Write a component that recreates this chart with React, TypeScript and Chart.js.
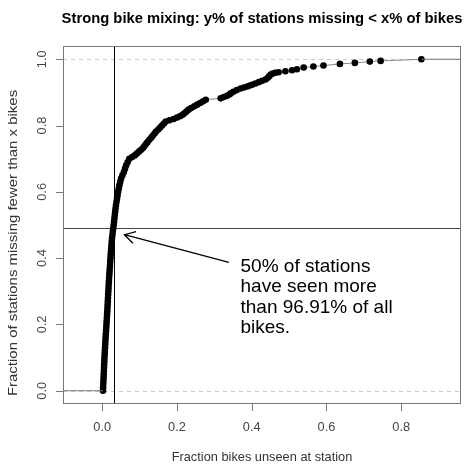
import { useEffect, useRef } from "react";
import { Chart, registerables } from "chart.js";

Chart.register(...registerables);

// Fraction of bikes unseen at each station (x) and ECDF level (y)
const stationX = [
  0.002, 0.0024, 0.0028, 0.0032, 0.0036, 0.004, 0.0044, 0.0048, 0.0052, 0.0056,
  0.006, 0.0065, 0.007, 0.0075, 0.008, 0.0085, 0.009, 0.0096, 0.0102, 0.0108,
  0.0113, 0.0118, 0.0124, 0.0129, 0.0135, 0.014, 0.0144, 0.0149, 0.0154, 0.0158,
  0.0163, 0.0168, 0.0173, 0.0178, 0.0184, 0.019, 0.0196, 0.0202, 0.0208, 0.0214,
  0.022, 0.0226, 0.0233, 0.024, 0.0247, 0.0254, 0.0262, 0.0272, 0.0282, 0.0294,
  0.0306, 0.0316, 0.0326, 0.0336, 0.0346, 0.0356, 0.0368, 0.0382, 0.0396, 0.041,
  0.0426, 0.0442, 0.046, 0.048, 0.0505, 0.054, 0.058, 0.061, 0.064, 0.068,
  0.0725, 0.08, 0.087, 0.093, 0.099, 0.104, 0.109, 0.113, 0.117, 0.121,
  0.126, 0.131, 0.135, 0.14, 0.144, 0.15, 0.155, 0.16, 0.165, 0.17,
  0.18, 0.191, 0.2, 0.208, 0.214, 0.219, 0.225, 0.231, 0.238, 0.246,
  0.254, 0.262, 0.27, 0.277,
  0.317, 0.325, 0.333, 0.339, 0.344, 0.351, 0.36, 0.37, 0.379, 0.388,
  0.395, 0.401, 0.41, 0.419, 0.428, 0.437, 0.443, 0.447, 0.451, 0.456,
  0.463, 0.472, 0.49, 0.508, 0.521, 0.539, 0.565, 0.592, 0.636, 0.676,
  0.716, 0.745, 0.854,
];
const stationY = [
  0.0, 0.01, 0.02, 0.03, 0.04, 0.05, 0.06, 0.07, 0.08, 0.09,
  0.1, 0.11, 0.12, 0.13, 0.14, 0.15, 0.16, 0.17, 0.18, 0.19,
  0.2, 0.21, 0.22, 0.23, 0.24, 0.25, 0.26, 0.27, 0.28, 0.29,
  0.3, 0.31, 0.32, 0.33, 0.34, 0.35, 0.36, 0.37, 0.38, 0.39,
  0.4, 0.41, 0.42, 0.43, 0.44, 0.45, 0.46, 0.47, 0.48, 0.49,
  0.5, 0.51, 0.52, 0.53, 0.54, 0.55, 0.56, 0.57, 0.58, 0.59,
  0.6, 0.61, 0.62, 0.63, 0.64, 0.65, 0.66, 0.67, 0.68, 0.69,
  0.7, 0.705, 0.71, 0.716, 0.722, 0.727, 0.732, 0.738, 0.744, 0.75,
  0.757, 0.763, 0.769, 0.776, 0.782, 0.788, 0.794, 0.8, 0.806, 0.812,
  0.816, 0.82, 0.824, 0.828, 0.832, 0.836, 0.842, 0.848, 0.853, 0.858,
  0.863, 0.868, 0.873, 0.878,
  0.882, 0.886, 0.889, 0.893, 0.897, 0.902, 0.907, 0.912, 0.915, 0.918,
  0.921, 0.923, 0.927, 0.931, 0.935, 0.939, 0.944, 0.949, 0.954, 0.957,
  0.959, 0.961, 0.964, 0.967, 0.97, 0.975, 0.978, 0.981, 0.986, 0.989,
  0.993, 0.995, 1.0,
];

const xTicks = [0, 0.2, 0.4, 0.6, 0.8];
const yTicks = [0, 0.2, 0.4, 0.6, 0.8, 1.0];
const xRange = [-0.105, 0.96];
const yRange = [-0.04, 1.04];
const guideLevels = [0, 1];
const medianUnseen = 0.0309;
const medianLevel = 0.49;

const titleText = "Strong bike mixing: y% of stations missing < x% of bikes";
const xLabel = "Fraction bikes unseen at station";
const yLabel = "Fraction of stations missing fewer than x bikes";
const noteLines = ["50% of stations", "have seen more", "than 96.91% of all", "bikes."];
const noteAnchor = { x: 0.37, y: 0.375 };
const arrowTail = { x: 0.339, y: 0.387 };
const arrowTip = { x: 0.0594, y: 0.4706 };

const FONT = '"Liberation Sans", Arial, Helvetica, sans-serif';

const rPlot = {
  id: "rPlot",
  beforeDatasetsDraw(chart: any) {
    const { ctx, chartArea: a, scales } = chart;
    const xs = scales.x, ys = scales.y;
    ctx.save();
    ctx.beginPath();
    ctx.rect(a.left, a.top, a.right - a.left, a.bottom - a.top);
    ctx.clip();
    ctx.strokeStyle = "#c8c8c8";
    ctx.lineWidth = 1;
    ctx.setLineDash([4, 4]);
    guideLevels.forEach((v) => {
      const py = Math.round(ys.getPixelForValue(v)) + 0.5;
      ctx.beginPath();
      ctx.moveTo(a.left, py);
      ctx.lineTo(a.right, py);
      ctx.stroke();
    });
    ctx.setLineDash([]);
    ctx.strokeStyle = "#000";
    ctx.lineWidth = 1;
    const vx = Math.round(xs.getPixelForValue(medianUnseen)) + 0.5;
    ctx.beginPath();
    ctx.moveTo(vx, a.top);
    ctx.lineTo(vx, a.bottom);
    ctx.stroke();
    ctx.strokeStyle = "#444";
    const hy = Math.round(ys.getPixelForValue(medianLevel)) + 0.5;
    ctx.beginPath();
    ctx.moveTo(a.left, hy);
    ctx.lineTo(a.right, hy);
    ctx.stroke();
    ctx.restore();
  },
  afterDraw(chart: any) {
    const { ctx, chartArea: a, scales } = chart;
    const xs = scales.x, ys = scales.y;
    ctx.save();
    ctx.strokeStyle = "#777";
    ctx.lineWidth = 1;
    ctx.strokeRect(a.left + 0.5, a.top + 0.5, a.right - a.left - 1, a.bottom - a.top - 1);
    ctx.beginPath();
    xTicks.forEach((v) => {
      const px = Math.round(xs.getPixelForValue(v)) + 0.5;
      ctx.moveTo(px, a.bottom);
      ctx.lineTo(px, a.bottom + 7);
    });
    yTicks.forEach((v) => {
      const py = Math.round(ys.getPixelForValue(v)) + 0.5;
      ctx.moveTo(a.left, py);
      ctx.lineTo(a.left - 7, py);
    });
    ctx.stroke();
    ctx.fillStyle = "#444";
    ctx.font = `12.8px ${FONT}`;
    ctx.textAlign = "center";
    ctx.textBaseline = "middle";
    xTicks.forEach((v) => {
      ctx.fillText(v.toFixed(1), xs.getPixelForValue(v), a.bottom + 23);
    });
    yTicks.forEach((v) => {
      ctx.save();
      ctx.translate(a.left - 21, ys.getPixelForValue(v));
      ctx.rotate(-Math.PI / 2);
      ctx.fillText(v.toFixed(1), 0, 0);
      ctx.restore();
    });
    ctx.fillStyle = "#333";
    ctx.fillText(xLabel, (a.left + a.right) / 2, a.bottom + 53);
    ctx.save();
    ctx.translate(13, 243);
    ctx.rotate(-Math.PI / 2);
    ctx.scale(1.17, 1);
    ctx.fillText(yLabel, 0, 0);
    ctx.restore();
    ctx.fillStyle = "#000";
    ctx.font = `bold 14.8px ${FONT}`;
    ctx.textBaseline = "alphabetic";
    ctx.fillText(titleText, (a.left + a.right) / 2, 23);
    const tx = xs.getPixelForValue(arrowTip.x), ty = ys.getPixelForValue(arrowTip.y);
    const fx = xs.getPixelForValue(arrowTail.x), fy = ys.getPixelForValue(arrowTail.y);
    const ang = Math.atan2(ty - fy, tx - fx);
    ctx.strokeStyle = "#000";
    ctx.lineWidth = 1.3;
    ctx.beginPath();
    ctx.moveTo(fx, fy);
    ctx.lineTo(tx, ty);
    const hl = 12, ha = Math.PI / 6;
    ctx.moveTo(tx - hl * Math.cos(ang - ha), ty - hl * Math.sin(ang - ha));
    ctx.lineTo(tx, ty);
    ctx.lineTo(tx - hl * Math.cos(ang + ha), ty - hl * Math.sin(ang + ha));
    ctx.stroke();
    ctx.fillStyle = "#000";
    ctx.font = `19px ${FONT}`;
    ctx.textAlign = "left";
    ctx.textBaseline = "middle";
    const nx = xs.getPixelForValue(noteAnchor.x), ny = ys.getPixelForValue(noteAnchor.y);
    noteLines.forEach((line, i) => ctx.fillText(line, nx, ny + i * 20.6));
    ctx.restore();
  },
};

export default function App() {
  const ref = useRef<HTMLCanvasElement>(null);
  useEffect(() => {
    if (!ref.current) return;
    const pts = stationX.map((x, i) => ({ x, y: stationY[i] }));
    const chart = new Chart(ref.current, {
      type: "scatter",
      data: {
        datasets: [
          {
            data: [
              { x: xRange[0], y: stationY[0] },
              { x: stationX[0], y: stationY[0] },
            ],
            showLine: true,
            borderColor: "#777",
            borderWidth: 1,
            pointRadius: 0,
          },
          {
            data: [
              { x: stationX[stationX.length - 1], y: stationY[stationY.length - 1] },
              { x: xRange[1], y: stationY[stationY.length - 1] },
            ],
            showLine: true,
            borderColor: "#777",
            borderWidth: 1,
            pointRadius: 0,
          },
          {
            data: pts,
            showLine: true,
            borderColor: "#888",
            borderWidth: 1,
            pointRadius: 3.3,
            pointBackgroundColor: "#000",
            pointBorderColor: "#000",
            pointBorderWidth: 0,
          },
        ],
      },
      options: {
        animation: false,
        responsive: false,
        devicePixelRatio: 1,
        layout: { padding: { left: 63, right: 2, top: 46, bottom: 61 } },
        plugins: { legend: { display: false }, tooltip: { enabled: false } },
        scales: {
          x: { type: "linear", min: xRange[0], max: xRange[1], display: false },
          y: { type: "linear", min: yRange[0], max: yRange[1], display: false },
        },
      },
      plugins: [rPlot],
    });
    return () => chart.destroy();
  }, []);
  return (
    <canvas
      ref={ref}
      width={465}
      height={465}
      style={{ position: "fixed", left: 0, top: 0, width: 465, height: 465, background: "#fff" }}
    />
  );
}
